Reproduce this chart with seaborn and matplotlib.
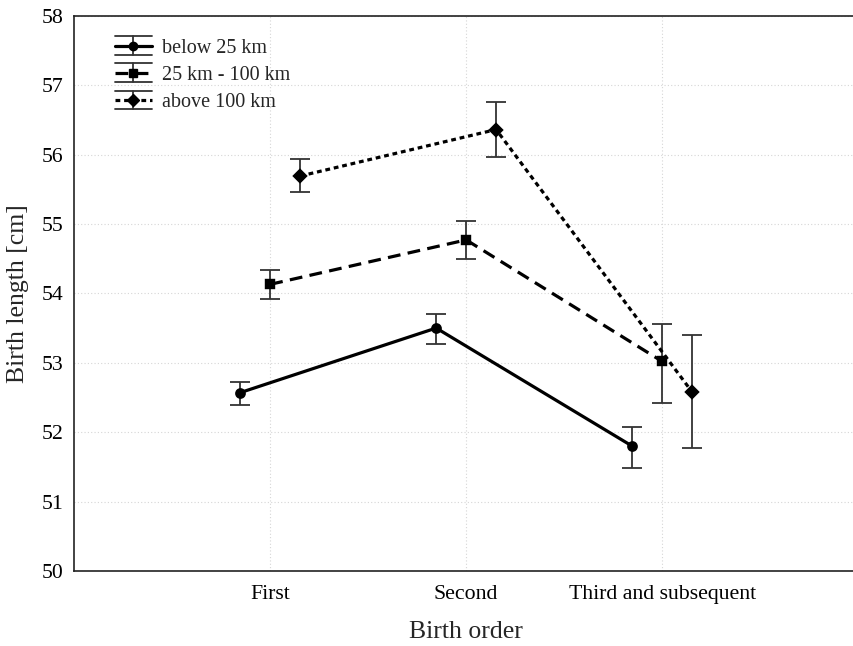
import matplotlib
matplotlib.use("Agg")
import matplotlib.pyplot as plt
import seaborn as sns
import pandas as pd
import numpy as np
from matplotlib.lines import Line2D
from matplotlib.legend_handler import HandlerBase

categories = ["First", "Second", "Third and subsequent"]
groups = ["below 25 km", "25 km - 100 km", "above 100 km"]
mean_below25 = [52.57, 53.50, 51.80]
low_below25 = [52.39, 53.27, 51.49]
high_below25 = [52.73, 53.70, 52.08]
mean_25_100 = [54.13, 54.77, 53.02]
low_25_100 = [53.92, 54.49, 52.42]
high_25_100 = [54.34, 55.04, 53.56]
mean_above100 = [55.69, 56.36, 52.58]
low_above100 = [55.46, 55.97, 51.77]
high_above100 = [55.93, 56.76, 53.40]

means = [mean_below25, mean_25_100, mean_above100]
lows = [low_below25, low_25_100, low_above100]
highs = [high_below25, high_25_100, high_above100]

rows = []
for g, m in zip(groups, means):
    for c, v in zip(categories, m):
        rows.append({"Birth order": c, "group": g, "value": v})
df = pd.DataFrame(rows)

sns.set_theme(style="white")
plt.rcParams["font.family"] = ["Liberation Serif", "DejaVu Serif"]

fig = plt.figure(figsize=(8.54, 6.46), dpi=100)
ax = fig.add_axes([74.3 / 854, 75 / 646, (858 - 74.3) / 854, 555.3 / 646])

linestyles = ["-", (0, (4.0, 2.3)), (0, (1.5, 1.2))]
markers = ["o", "s", "D"]
sns.pointplot(data=df, x="Birth order", y="value", hue="group",
              order=categories, hue_order=groups, errorbar=None,
              dodge=0.306, markers=markers, linestyles=linestyles,
              palette=["black"] * 3, ax=ax, markersize=6, linewidth=2.3,
              legend=False)

ebcolor = "#333333"
pt_lines = list(ax.lines[:3])
for i, line in enumerate(pt_lines):
    xs = np.asarray(line.get_xdata(), dtype=float)
    m = np.array(means[i])
    lo = np.array(lows[i])
    hi = np.array(highs[i])
    ax.errorbar(xs, m, yerr=[m - lo, hi - m], fmt="none",
                ecolor=ebcolor, elinewidth=1.3, capsize=7.5,
                capthick=1.3, zorder=1)

style_of = {id(l): (linestyles[i], markers[i]) for i, l in enumerate(pt_lines)}


class ErrLegendHandler(HandlerBase):
    def create_artists(self, legend, orig_handle, xdescent, ydescent,
                       width, height, fontsize, trans):
        ls, mk = style_of[id(orig_handle)]
        yc = height / 2.0 - ydescent
        x0, x1 = -xdescent, width - xdescent
        half = 0.47 * fontsize
        arts = []
        for yy in (yc - half, yc + half):
            arts.append(Line2D([x0, x1], [yy, yy], color=ebcolor, lw=1.3))
        arts.append(Line2D([(x0 + x1) / 2] * 2, [yc - half, yc + half],
                           color=ebcolor, lw=1.3))
        arts.append(Line2D([x0, x1], [yc, yc], color="black",
                           lw=orig_handle.get_linewidth(), linestyle=ls))
        arts.append(Line2D([(x0 + x1) / 2], [yc], color="black", marker=mk,
                           markersize=orig_handle.get_markersize(),
                           linestyle="none"))
        for a in arts:
            a.set_transform(trans)
        return arts


ax.legend(pt_lines, groups, loc="upper left", frameon=False,
          fontsize=14.5, handlelength=1.85, handletextpad=0.5,
          labelspacing=0.4, borderaxespad=0.6,
          bbox_to_anchor=(0.026, 0.995),
          handler_map={Line2D: ErrLegendHandler()})

ax.set_ylim(50, 58)
ax.set_yticks(range(50, 59))
ax.set_xlim(-1, 3)
ax.set_xticks([0, 1, 2])
ax.set_xticklabels(categories)
ax.set_axisbelow(True)
ax.grid(True, axis="both", linestyle=(0, (1, 2)), color="#d6d6d6", linewidth=0.8)
ax.tick_params(axis="both", direction="in", length=4, width=1, colors="#222222",
               labelsize=15.7, labelcolor="black")
ax.tick_params(axis="y", pad=8)
ax.tick_params(axis="x", pad=10)
ax.set_xlabel("Birth order", fontsize=18.5, labelpad=12)
ax.set_ylabel("Birth length [cm]", fontsize=18.5, labelpad=9)

for s in ["left", "bottom", "top", "right"]:
    ax.spines[s].set_visible(True)
    ax.spines[s].set_color("#222222")
    ax.spines[s].set_linewidth(1.2)

fig.savefig("out.png", dpi=100)
